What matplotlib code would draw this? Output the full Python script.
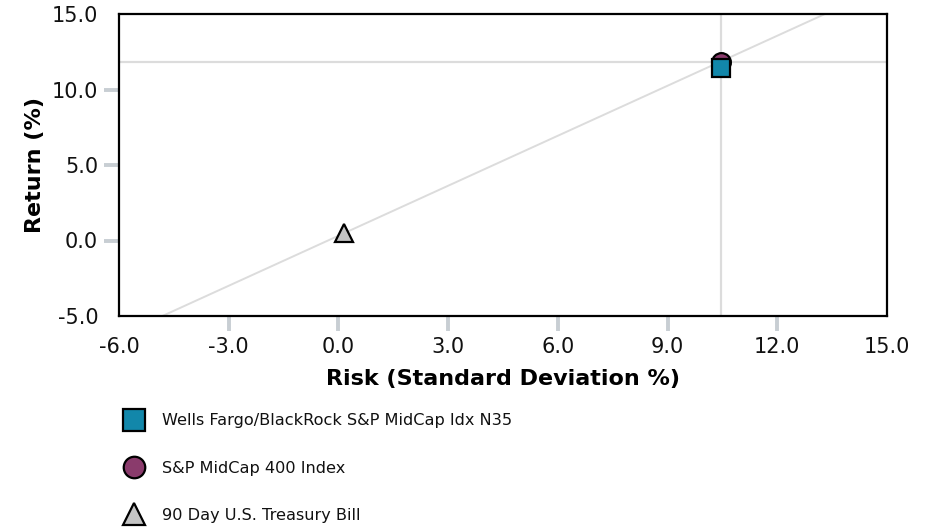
import matplotlib
matplotlib.use("Agg")
import matplotlib.pyplot as plt
from matplotlib.lines import Line2D

# Risk / return values (standard deviation %, return %)
names = ["Wells Fargo/BlackRock S&P MidCap Idx N35", "S&P MidCap 400 Index", "90 Day U.S. Treasury Bill"]
risk = [10.45, 10.45, 0.15]
ret = [11.4, 11.85, 0.48]
markers = ["s", "o", "^"]
colors = ["#1287aa", "#8a3b6c", "#c4c4c4"]
x_ticks = [-6.0, -3.0, 0.0, 3.0, 6.0, 9.0, 12.0, 15.0]
y_ticks = [-5.0, 0.0, 5.0, 10.0, 15.0]

plt.rcParams["font.family"] = ["DejaVu Sans"]

fig = plt.figure(figsize=(9.30, 5.28), dpi=100)
ax = fig.add_axes([119 / 930, 1 - 316 / 528, (887 - 119) / 930, (316 - 14) / 528])
ax.set_xlim(x_ticks[0], x_ticks[-1])
ax.set_ylim(y_ticks[0], y_ticks[-1])

# Capital market line through risk-free asset and benchmark
rf_x, rf_y = risk[2], ret[2]
bx, by = risk[1], ret[1]
slope = (by - rf_y) / (bx - rf_x)
xs = [x_ticks[0], x_ticks[-1]]
ax.plot(xs, [rf_y + slope * (x - rf_x) for x in xs], color="#dcdcdc", lw=1.4, zorder=1)

# Benchmark crosshair
ax.axvline(bx, color="#dcdcdc", lw=1.6, zorder=1)
ax.axhline(by, color="#dcdcdc", lw=1.6, zorder=1)

# Points: benchmark first, fund on top
order = [1, 0, 2]
for i in order:
    ax.plot(risk[i], ret[i], marker=markers[i], ms=13.5, mfc=colors[i],
            mec="black", mew=1.6, ls="none", zorder=3)

for sp in ax.spines.values():
    sp.set_color("black")
    sp.set_linewidth(1.6)

ax.set_xticks(x_ticks)
ax.set_yticks(y_ticks)
ax.set_xticklabels([f"{v:.1f}" for v in x_ticks])
ax.set_yticklabels([f"{v:.1f}" for v in y_ticks])
ax.tick_params(axis="both", direction="out", length=11, width=2.8, color="#c8ced3",
               labelsize=15, labelcolor="#111111", pad=4)
for axis in (ax.xaxis, ax.yaxis):
    ticks = axis.get_major_ticks()
    ticks[0].tick1line.set_visible(False)
    ticks[-1].tick1line.set_visible(False)

ax.set_xlabel("Risk (Standard Deviation %)", fontsize=16, fontweight="bold", labelpad=9)
ax.set_ylabel("Return (%)", fontsize=16, fontweight="bold", labelpad=5)

handles = [Line2D([], [], marker=markers[i], ms=15.5, mfc=colors[i], mec="black", mew=1.6, ls="none")
           for i in range(3)]
fig.legend(handles, names, loc="upper left", bbox_to_anchor=(116.3 / 930, 1 - 407 / 528),
           frameon=False, fontsize=11.6, labelspacing=2.0, handletextpad=1.04,
           borderaxespad=0, handlelength=1.4, labelcolor="#111111")

fig.savefig("out.png", dpi=100)
